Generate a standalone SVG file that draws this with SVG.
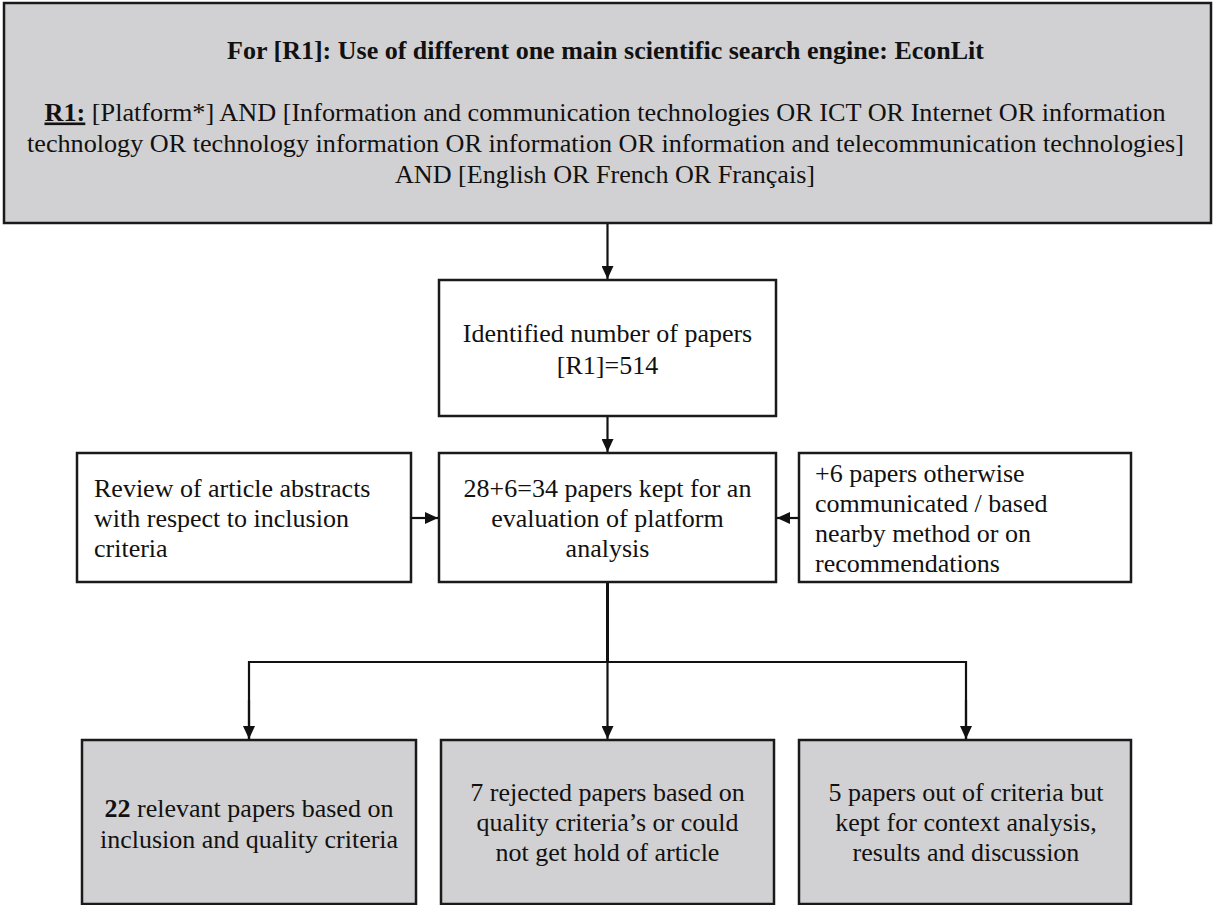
<svg xmlns="http://www.w3.org/2000/svg" width="1213" height="905" viewBox="0 0 1213 905">
  <style>
    .box { fill: #ffffff; stroke: #1a1a1a; stroke-width: 2.5; }
    .grey { fill: #d1d0d2; stroke: #1a1a1a; stroke-width: 2.5; }
    .t { font-family: "Liberation Serif", "Times New Roman", serif; font-size: 26px; fill: #111111; }
    .c { text-anchor: middle; }
    .b { font-weight: bold; }
    .conn { fill: none; stroke: #111111; stroke-width: 2.2; }
    .thick { stroke-width: 3; }
  </style>
  <defs>
    <marker id="arrow" markerUnits="userSpaceOnUse" viewBox="0 0 13 12" refX="13" refY="6" markerWidth="13" markerHeight="12" orient="auto">
      <path d="M0,0 L13,6 L0,12 z" fill="#111111"/>
    </marker>
  </defs>

  <g id="node-search">
    <rect class="grey" x="4" y="3" width="1207" height="220"/>
    <text class="t c b" x="605.5" y="59" textLength="757" lengthAdjust="spacingAndGlyphs">For [R1]: Use of different one main scientific search engine: EconLit</text>
    <text class="t c" x="605" y="120.5" textLength="1121" lengthAdjust="spacingAndGlyphs"><tspan class="b" text-decoration="underline">R1:</tspan> [Platform*] AND [Information and communication technologies OR ICT OR Internet OR information</text>
    <text class="t c" x="605.5" y="152" textLength="1157" lengthAdjust="spacingAndGlyphs">technology OR technology information OR information OR information and telecommunication technologies]</text>
    <text class="t c" x="605" y="183" textLength="420" lengthAdjust="spacingAndGlyphs">AND [English OR French OR Français]</text>
  </g>

  <g id="node-identified">
    <rect class="box" x="439" y="280" width="337" height="136"/>
    <text class="t c" x="607.5" y="341.7">Identified number of papers</text>
    <text class="t c" x="607.5" y="374">[R1]=514</text>
  </g>

  <g id="node-kept">
    <rect class="box" x="439" y="453" width="337" height="129"/>
    <text class="t c" x="607.5" y="496.7">28+6=34 papers kept for an</text>
    <text class="t c" x="607.5" y="526.7">evaluation of platform</text>
    <text class="t c" x="607.5" y="556.7">analysis</text>
  </g>

  <g id="node-review">
    <rect class="box" x="77" y="453" width="334" height="129"/>
    <text class="t" x="94" y="497.3">Review of article abstracts</text>
    <text class="t" x="94" y="527.3">with respect to inclusion</text>
    <text class="t" x="94" y="557.3">criteria</text>
  </g>

  <g id="node-plus6">
    <rect class="box" x="799" y="453" width="332" height="129"/>
    <text class="t" x="815" y="481.7">+6 papers otherwise</text>
    <text class="t" x="815" y="511.7">communicated / based</text>
    <text class="t" x="815" y="541.7">nearby method or on</text>
    <text class="t" x="815" y="571.7">recommendations</text>
  </g>

  <g id="node-relevant">
    <rect class="grey" x="82" y="740" width="334" height="164"/>
    <text class="t c" x="249" y="817.3"><tspan class="b">22</tspan> relevant papers based on</text>
    <text class="t c" x="249" y="848.3">inclusion and quality criteria</text>
  </g>

  <g id="node-rejected">
    <rect class="grey" x="441" y="740" width="333" height="164"/>
    <text class="t c" x="607.5" y="801">7 rejected papers based on</text>
    <text class="t c" x="607.5" y="831">quality criteria’s or could</text>
    <text class="t c" x="607.5" y="861">not get hold of article</text>
  </g>

  <g id="node-context">
    <rect class="grey" x="799" y="740" width="332" height="164"/>
    <text class="t c" x="966" y="801">5 papers out of criteria but</text>
    <text class="t c" x="966" y="831">kept for context analysis,</text>
    <text class="t c" x="966" y="861">results and discussion</text>
  </g>

  <g id="connectors">
    <line class="conn" x1="607.5" y1="224" x2="607.5" y2="279" marker-end="url(#arrow)"/>
    <line class="conn" x1="607.5" y1="417" x2="607.5" y2="452" marker-end="url(#arrow)"/>
    <line class="conn" x1="411" y1="518" x2="438" y2="518" marker-end="url(#arrow)"/>
    <line class="conn" x1="799" y1="518" x2="777" y2="518" marker-end="url(#arrow)"/>
    <line class="conn thick" x1="607.5" y1="583" x2="607.5" y2="662"/>
    <line class="conn" x1="607.5" y1="660" x2="607.5" y2="739" marker-end="url(#arrow)"/>
    <polyline class="conn" points="249,739 249,662 966,662 966,739"/>
    <line class="conn" x1="249" y1="700" x2="249" y2="739" marker-end="url(#arrow)"/>
    <line class="conn" x1="966" y1="700" x2="966" y2="739" marker-end="url(#arrow)"/>
  </g>
</svg>
